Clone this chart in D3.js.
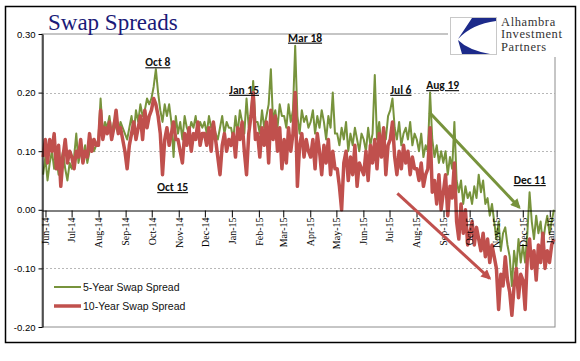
<!DOCTYPE html>
<html>
<head>
<meta charset="utf-8">
<script src="https://cdn.jsdelivr.net/npm/d3@7"></script>
<style>
  body { margin: 0; background: #fff; }
</style>
</head>
<body>
<svg id="chart" width="580" height="361" font-family="'Liberation Sans', Arial, sans-serif"></svg>
<script>
// 5-year swap spread, approx. 12 readings per month (Jun-14 .. Jan-16)
const fiveYear = [
  // Jun-14
  0.06, 0.09, 0.05, 0.08, 0.10, 0.07, 0.09, 0.06, 0.08, 0.10, 0.07, 0.05, 0.08,
  // Jul-14
  0.07, 0.09, 0.13, 0.08, 0.10, 0.09, 0.11, 0.08, 0.10, 0.12, 0.10, 0.11,
  // Aug-14
  0.12, 0.19, 0.13, 0.15, 0.14, 0.16, 0.13, 0.15, 0.14, 0.13, 0.15, 0.14,
  // Sep-14
  0.13, 0.12, 0.14, 0.16, 0.13, 0.17, 0.15, 0.18, 0.16, 0.17, 0.19, 0.18,
  // Oct-14
  0.19, 0.21, 0.24, 0.20, 0.17, 0.15, 0.18, 0.16, 0.18, 0.15, 0.09, 0.16,
  // Nov-14
  0.13, 0.15, 0.12, 0.16, 0.14, 0.13, 0.15, 0.14, 0.16, 0.13, 0.15, 0.14,
  // Dec-14
  0.15, 0.13, 0.16, 0.14, 0.15, 0.13, 0.12, 0.14, 0.16, 0.13, 0.15, 0.14,
  // Jan-15
  0.14, 0.12, 0.16, 0.13, 0.17, 0.15, 0.13, 0.19, 0.14, 0.16, 0.22, 0.15,
  // Feb-15
  0.15, 0.13, 0.17, 0.14, 0.16, 0.18, 0.24, 0.15, 0.17, 0.14, 0.18, 0.16,
  // Mar-15
  0.16, 0.14, 0.18, 0.15, 0.17, 0.28, 0.16, 0.13, 0.17, 0.15, 0.16, 0.14,
  // Apr-15
  0.15, 0.17, 0.13, 0.16, 0.14, 0.17, 0.15, 0.12, 0.16, 0.14, 0.20, 0.13,
  // May-15
  0.13, 0.11, 0.14, 0.12, 0.15, 0.10, 0.13, 0.11, 0.14, 0.12, 0.10, 0.13,
  // Jun-15
  0.12, 0.10, 0.14, 0.11, 0.13, 0.23, 0.12, 0.15, 0.11, 0.14, 0.12, 0.16,
  // Jul-15
  0.17, 0.19, 0.14, 0.12, 0.15, 0.11, 0.13, 0.14, 0.12, 0.15, 0.11, 0.13,
  // Aug-15
  0.12, 0.10, 0.13, 0.09, 0.11, 0.10, 0.20, 0.12, 0.09, 0.11, 0.08, 0.10,
  // Sep-15
  0.08, 0.10, 0.06, 0.09, 0.07, 0.15, 0.05, 0.03, 0.05, 0.01, 0.04, 0.02,
  // Oct-15
  0.03, 0.01, 0.04, 0.02, 0.06, 0.03, 0.05, 0.01, 0.02, -0.01, 0.01, -0.02,
  // Nov-15
  -0.05, -0.02, -0.07, -0.04, -0.03, -0.06, -0.08, -0.13, -0.07, -0.10, -0.05, -0.09,
  // Dec-15
  -0.06, -0.09, -0.04, 0.03, -0.02, -0.05, -0.01, -0.04, -0.02, -0.06, -0.03, -0.01,
  // Jan-16
  -0.04, -0.02, 0.00
];

// 10-year swap spread, same dates
const tenYear = [
  // Jun-14
  0.09, 0.12, 0.08, 0.12, 0.10, 0.13, 0.07, 0.11, 0.04, 0.09, 0.12, 0.08, 0.10,
  // Jul-14
  0.09, 0.07, 0.10, 0.09, 0.12, 0.08, 0.10, 0.09, 0.13, 0.10, 0.12, 0.11,
  // Aug-14
  0.11, 0.17, 0.12, 0.14, 0.13, 0.15, 0.12, 0.14, 0.17, 0.13, 0.14, 0.12,
  // Sep-14
  0.10, 0.07, 0.11, 0.13, 0.15, 0.12, 0.14, 0.16, 0.12, 0.17, 0.14, 0.16,
  // Oct-14
  0.17, 0.19, 0.18, 0.16, 0.13, 0.06, 0.12, 0.14, 0.11, 0.13, 0.15, 0.12,
  // Nov-14
  0.12, 0.10, 0.08, 0.13, 0.11, 0.14, 0.10, 0.13, 0.12, 0.15, 0.11, 0.13,
  // Dec-14
  0.13, 0.11, 0.14, 0.10, 0.15, 0.12, 0.09, 0.06, 0.11, 0.13, 0.10, 0.12,
  // Jan-15
  0.11, 0.13, 0.09, 0.14, 0.12, 0.15, 0.10, 0.06, 0.13, 0.16, 0.20, 0.12,
  // Feb-15
  0.13, 0.09, 0.14, 0.11, 0.15, 0.08, 0.17, 0.12, 0.16, 0.10, 0.14, 0.07,
  // Mar-15
  0.12, 0.08, 0.14, 0.10, 0.13, 0.20, 0.04, 0.11, 0.13, 0.09, 0.12, 0.10,
  // Apr-15
  0.09, 0.12, 0.07, 0.13, 0.10, 0.06, 0.11, 0.08, 0.12, 0.06, 0.10, 0.07,
  // May-15
  0.07, 0.04, 0.00, 0.08, 0.10, 0.05, 0.09, 0.06, 0.11, 0.04, 0.08, 0.07,
  // Jun-15
  0.06, 0.10, 0.05, 0.11, 0.08, 0.12, 0.07, 0.13, 0.09, 0.14, 0.06, 0.11,
  // Jul-15
  0.12, 0.15, 0.09, 0.06, 0.10, 0.07, 0.11, 0.08, 0.10, 0.06, 0.09, 0.07,
  // Aug-15
  0.07, 0.05, 0.08, 0.04, 0.06, 0.07, 0.14, 0.03, 0.05, 0.01, 0.06, 0.00,
  // Sep-15
  0.03, 0.06, -0.01, 0.04, 0.02, 0.08, -0.02, -0.05, 0.01, -0.04, 0.00, -0.06,
  // Oct-15
  -0.04, -0.02, -0.06, -0.03, -0.05, -0.07, -0.04, -0.08, -0.05, -0.09, -0.06, -0.08,
  // Nov-15
  -0.10, -0.17, -0.11, -0.13, -0.08, -0.12, -0.14, -0.18, -0.13, -0.10, -0.15, -0.11,
  // Dec-15
  -0.12, -0.17, -0.08, -0.05, -0.10, -0.07, -0.12, -0.06, -0.09, -0.04, -0.10, -0.07,
  // Jan-16
  -0.09, -0.06, -0.05
];

const yTicks = [-0.20, -0.10, 0.00, 0.10, 0.20, 0.30];
const gridValues = [0.20, 0.10, -0.10];

const annotations = [
  { label: "Oct 8",  date: "2014-10-08", value: 0.245 },
  { label: "Oct 15", date: "2014-10-25", value: 0.032 },
  { label: "Jan 15", date: "2015-01-15", value: 0.198 },
  { label: "Mar 18", date: "2015-03-26", value: 0.287 },
  { label: "Jul 6",  date: "2015-07-14", value: 0.198 },
  { label: "Aug 19", date: "2015-08-31", value: 0.206 },
  { label: "Dec 11", date: "2015-12-09", value: 0.044 }
];

const trendArrows = [
  { from: ["2015-08-16", 0.166], to: ["2015-11-27", 0.004], color: "#77933c" },
  { from: ["2015-07-10", 0.028], to: ["2015-10-24", -0.117], color: "#c0504d" }
];

const logoLines = ["Alhambra", "Investment", "Partners"];

const serif = "'Liberation Serif', 'Times New Roman', serif";
const parse = d3.timeParse("%Y-%m-%d");
const startDate = new Date(2014, 4, 28);
const endDate = new Date(2016, 0, 7);

const svg = d3.select("#chart");

// outer frame
svg.append("rect")
  .attr("x", 5.5).attr("y", 6.5).attr("width", 570).attr("height", 336)
  .attr("fill", "#fff").attr("stroke", "#000").attr("stroke-width", 1.5);

const x = d3.scaleTime().domain([startDate, endDate]).range([42, 555]);
const y = d3.scaleLinear().domain([-0.2, 0.3]).range([327, 34]);

// evenly spaced reading dates over the span
const n = fiveYear.length;
const dates = d3.range(n).map(i => new Date(+startDate + (i + 0.5) * (endDate - startDate) / n));

// plot border
svg.append("rect")
  .attr("x", 42).attr("y", 34).attr("width", 513).attr("height", 293)
  .attr("fill", "none").attr("stroke", "#8c8c8c").attr("stroke-width", 1);

// dashed gridlines
svg.append("g").selectAll("line")
  .data(gridValues)
  .join("line")
  .attr("x1", 42).attr("x2", 555)
  .attr("y1", d => Math.round(y(d)) + 0.5).attr("y2", d => Math.round(y(d)) + 0.5)
  .attr("stroke", "#a6a6a6").attr("stroke-width", 0.8)
  .attr("stroke-dasharray", "2,2");

// series
const line = d3.line()
  .x((d, i) => x(dates[i]))
  .y(d => y(d));

svg.append("path")
  .datum(fiveYear)
  .attr("d", line)
  .attr("fill", "none").attr("stroke", "#77933c")
  .attr("stroke-width", 2).attr("stroke-linejoin", "round");

svg.append("path")
  .datum(tenYear)
  .attr("d", line)
  .attr("fill", "none").attr("stroke", "#c0504d")
  .attr("stroke-width", 3.5).attr("stroke-linejoin", "round");

// x axis on the zero line
const xAxis = d3.axisBottom(x)
  .ticks(d3.timeMonth.every(1))
  .tickFormat(d3.timeFormat("%b-%y"))
  .tickSize(7).tickSizeOuter(0);

const gx = svg.append("g")
  .attr("transform", `translate(0,${Math.round(y(0)) + 0.5})`)
  .call(xAxis);
gx.select(".domain").attr("stroke", "#000").attr("stroke-width", 1);
gx.selectAll(".tick line").attr("stroke", "#000");
gx.selectAll(".tick text")
  .style("font-family", serif)
  .style("font-size", "10px")
  .attr("fill", "#000")
  .attr("text-anchor", "end")
  .attr("transform", "rotate(-90)")
  .attr("x", -7).attr("y", 0).attr("dy", "0.33em");

// y axis
const yAxis = d3.axisLeft(y)
  .tickValues(yTicks)
  .tickFormat(d => d.toFixed(2))
  .tickSize(4).tickSizeOuter(0);

const gy = svg.append("g")
  .attr("transform", "translate(42.5,0)")
  .call(yAxis);
gy.select(".domain").attr("stroke", "#000").attr("stroke-width", 1.2);
gy.selectAll(".tick line").attr("stroke", "#000");
gy.selectAll(".tick text")
  .style("font-family", "'Liberation Sans', Arial, sans-serif")
  .style("font-size", "9.5px").attr("fill", "#000").attr("x", -7);

// trend arrows
const defs = svg.append("defs");
trendArrows.forEach((a, i) => {
  defs.append("marker")
    .attr("id", "arrow" + i)
    .attr("viewBox", "0 0 10 10")
    .attr("refX", 8).attr("refY", 5)
    .attr("markerUnits", "userSpaceOnUse")
    .attr("markerWidth", 11).attr("markerHeight", 10)
    .attr("orient", "auto")
    .append("path").attr("d", "M0,0 L10,5 L0,10 Z").attr("fill", a.color);
});

svg.append("g").selectAll("line")
  .data(trendArrows)
  .join("line")
  .attr("x1", d => x(parse(d.from[0]))).attr("y1", d => y(d.from[1]))
  .attr("x2", d => x(parse(d.to[0]))).attr("y2", d => y(d.to[1]))
  .attr("stroke", d => d.color).attr("stroke-width", 3)
  .attr("marker-end", (d, i) => `url(#arrow${i})`);

// date annotations
svg.append("g").selectAll("text")
  .data(annotations)
  .join("text")
  .attr("x", d => x(parse(d.date)))
  .attr("y", d => y(d.value))
  .attr("text-anchor", "middle")
  .style("font-family", "Carlito, Lato, 'Open Sans', sans-serif")
  .style("font-weight", "bold")
  .style("font-size", "11.5px")
  .style("text-decoration", "underline")
  .attr("fill", "#111")
  .text(d => d.label);

// legend
const legendItems = [
  { label: "5-Year Swap Spread", color: "#77933c", width: 2 },
  { label: "10-Year Swap Spread", color: "#c0504d", width: 3.5 }
];
const lg = svg.append("g").attr("transform", "translate(54,287)");
legendItems.forEach((d, i) => {
  lg.append("line")
    .attr("x1", 0).attr("x2", 27).attr("y1", i * 19).attr("y2", i * 19)
    .attr("stroke", d.color).attr("stroke-width", d.width);
  lg.append("text")
    .attr("x", 29).attr("y", i * 19).attr("dy", "0.35em")
    .style("font-size", "10.5px").attr("fill", "#111")
    .text(d.label);
});

// title
svg.append("text")
  .attr("x", 48).attr("y", 30)
  .style("font-family", serif)
  .style("font-size", "23px")
  .attr("fill", "#1a1a78")
  .text("Swap Spreads");

// logo
const logo = svg.append("g");
logo.append("rect")
  .attr("x", 448).attr("y", 8).attr("width", 126).attr("height", 49)
  .attr("fill", "#fff");
logo.append("rect")
  .attr("x", 450.5).attr("y", 17.5).attr("width", 46).attr("height", 37)
  .attr("fill", "#fff").attr("stroke", "#c8c8c8").attr("stroke-width", 1);
logo.append("path")
  .attr("d", "M472,18 L496,18 L496,21 Q472,24 458,39 Z")
  .attr("fill", "#1c2a8a");
logo.append("path")
  .attr("d", "M458,40 Q468,50 490,54 L462,54 Z")
  .attr("fill", "#1c2a8a");
logo.selectAll("text.logo")
  .data(logoLines)
  .join("text")
  .attr("class", "logo")
  .attr("x", 501).attr("y", (d, i) => 25.5 + i * 12.5)
  .style("font-family", serif)
  .style("font-size", "12.5px")
  .style("letter-spacing", "0.6px")
  .attr("fill", "#333")
  .text(d => d);
</script>
</body>
</html>
